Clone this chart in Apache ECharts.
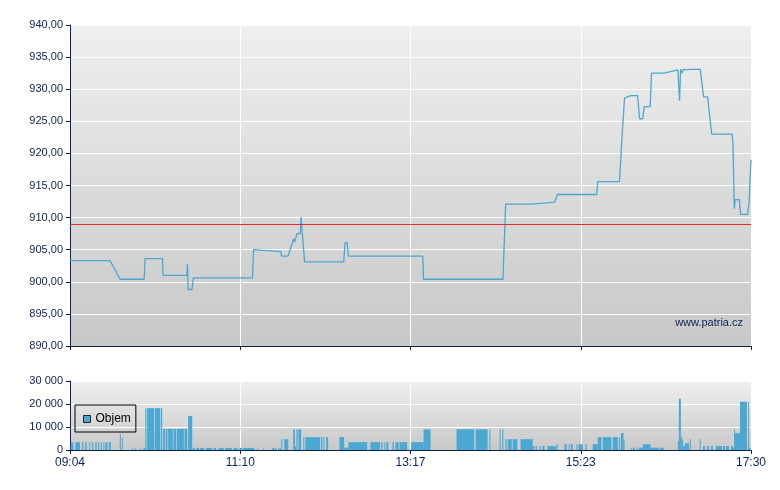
<!DOCTYPE html>
<html>
<head>
<meta charset="utf-8">
<title>Patria</title>
<script src="https://cdn.jsdelivr.net/npm/echarts@6/dist/echarts.min.js"></script>
<style>
	html, body { margin: 0; padding: 0; background: #fff; }
	#chart { width: 780px; height: 490px; }
</style>
</head>
<body>
<div id="chart"></div>
<script>
'use strict';

// minutes since 09:04
var priceTime = [0, 29.8, 37.2, 55.1, 55.8, 68.7, 69.2, 86.8, 87.3, 87.8, 90.6, 91.7, 135.6, 136.4, 156.8, 157.2,
	162.0, 166.2, 166.9, 168.7, 171.1, 171.7, 174.3, 203.4, 204.4, 205.9, 206.9, 262.1, 262.7, 321.7, 323.7,
	343.6, 344.6, 360.1, 362.2, 391.4, 392.1, 408.3, 409.8, 410.5, 412.0, 416.7, 421.7, 423.2, 425.6, 426.6,
	431.1, 432.1, 441.5, 451.7, 452.9, 453.7, 454.6, 455.9, 458.9, 459.3, 460.4, 468.3, 470.8, 473.8, 476.8,
	491.9, 492.6, 493.6, 494.3, 497.3, 498.3, 503.5, 504.5, 506];
var priceValue = [903.3, 903.3, 900.4, 900.4, 903.6, 903.6, 901.0, 901.0, 902.8, 898.8, 898.8, 900.6, 900.6, 905.0, 904.7, 904.0,
	904.0, 906.7, 906.2, 907.5, 907.5, 910.1, 903.1, 903.1, 906.1, 906.1, 904.0, 904.0, 900.4, 900.4, 912.1,
	912.1, 912.4, 912.4, 913.6, 913.6, 915.6, 915.6, 921.3, 921.3, 928.6, 929.0, 929.0, 925.4, 925.4, 927.3,
	927.3, 932.5, 932.5, 933.0, 928.2, 933.1, 932.5, 933.1, 933.0, 933.3, 933.1, 933.1, 928.8, 928.8, 923.0,
	923.0, 921.5, 911.4, 912.8, 912.8, 910.5, 910.5, 912.2, 919.0];
var refPrice = 909.0;

var volStart = [0.5, 3.9, 8.9, 11.4, 14.4, 16.4, 18.8, 20.8, 22.8, 24.8, 26.3, 28.8, 37.0, 38.5, 46.1, 48.1, 52.1, 54.5,
	56.0, 57.3, 63.2, 67.5, 69.2, 71.2, 72.9, 76.9, 79.4, 85.1, 87.8, 91.0, 93.8, 96.7, 101.2, 106.6, 110.4, 115.3,
	121.5, 126.0, 128.7, 139.1, 143.6, 150.3, 152.3, 154.8, 156.3, 157.0, 159.2, 165.9, 167.2, 168.2, 169.7, 173.4,
	174.9, 186.5, 188.3, 190.3, 200.2, 203.7, 206.9, 223.2, 231.2, 233.6, 235.1, 239.6, 241.8, 244.8, 253.5, 262.7,
	287.2, 301.4, 311.6, 319.2, 321.2, 323.5, 325.2, 328.9, 334.8, 343.8, 346.0, 348.8, 351.0, 354.7, 361.4, 367.4,
	370.6, 372.1, 376.3, 377.8, 383.0, 388.4, 392.1, 395.9, 403.3, 407.8, 409.3, 411.3, 416.7, 418.2, 421.2, 422.7,
	425.6, 431.4, 438.3, 451.7, 452.4, 453.9, 454.6, 455.4, 456.9, 460.6, 467.8, 470.3, 473.3, 476.2, 479.9, 485.2,
	487.4, 491.1, 492.6, 493.4, 494.1, 497.8, 503.8, 504.5];
var volEnd = [2.5, 7.4, 9.9, 12.4, 15.1, 17.3, 19.9, 21.6, 23.6, 25.3, 27.8, 30.3, 37.7, 39.2, 46.9, 48.6, 52.8, 55.8,
	56.8, 62.7, 67.0, 68.5, 70.7, 72.4, 76.4, 78.9, 84.6, 87.1, 90.8, 92.8, 96.0, 99.7, 105.7, 108.6, 114.1, 120.3,
	124.5, 128.0, 136.9, 139.9, 144.3, 151.8, 153.3, 155.7, 156.8, 157.5, 162.2, 167.2, 167.9, 169.1, 171.7, 174.1,
	185.8, 187.5, 189.0, 191.8, 203.7, 206.9, 220.8, 230.4, 232.2, 234.4, 236.6, 240.6, 244.1, 250.5, 262.7, 267.9,
	300.4, 310.3, 312.3, 320.0, 322.0, 324.4, 328.2, 332.4, 343.8, 345.0, 347.0, 349.7, 352.5, 360.9, 362.4, 369.1,
	371.3, 373.6, 377.0, 381.0, 384.0, 392.1, 394.9, 402.3, 407.0, 408.5, 411.3, 412.0, 417.4, 419.7, 421.9, 425.6,
	431.4, 437.5, 441.3, 452.4, 453.9, 454.6, 455.4, 456.9, 459.9, 461.3, 468.5, 471.8, 474.7, 477.7, 484.4, 486.6,
	489.6, 492.6, 493.4, 494.1, 497.8, 503.0, 504.5, 505.4];
var volValue = [3400, 3400, 3400, 3400, 3400, 3400, 3400, 3400, 3400, 3400, 3400, 3400, 7000, 5400, 800, 800, 800, 800,
	18200, 18200, 18200, 18200, 9200, 9200, 9200, 9200, 9200, 9200, 14800, 900, 900, 900, 900, 900, 900, 900,
	900, 900, 900, 700, 700, 900, 900, 900, 900, 4700, 4700, 9000, 1500, 9000, 9000, 5600,
	5600, 5600, 5600, 5600, 5600, 1000, 3400, 3400, 3400, 3400, 3400, 3400, 3400, 3400, 3400, 9000,
	9000, 9000, 9000, 9000, 9000, 4700, 4700, 4700, 4700, 1700, 1700, 1700, 1700, 1700, 2500, 2500,
	2500, 2500, 2500, 2500, 2500, 2500, 5600, 5600, 5600, 5600, 7300, 4700, 1000, 1000, 1000, 1000,
	2500, 1000, 1000, 3900, 22300, 5600, 4700, 1700, 2900, 4700, 4700, 1700, 1700, 1700, 1700, 1700,
	1700, 1700, 1000, 9000, 7300, 21000, 21000, 1000];

var openMinute = 9 * 60 + 4;
var axisColor = '#0c2256';
var lineColor = '#4aa8d2';

function timeLabel(v) {
	var m = Math.floor(openMinute + v);
	var h = Math.floor(m / 60);
	var mm = m % 60;
	return (h < 10 ? '0' : '') + h + ':' + (mm < 10 ? '0' : '') + mm;
}

var priceData = [];
for (var i = 0; i < priceTime.length; i++) {
	priceData.push([priceTime[i], priceValue[i]]);
}
var volData = [];
for (var j = 0; j < volStart.length; j++) {
	volData.push([volStart[j], volEnd[j], volValue[j]]);
}

function plotBg(top, bottom) {
	return new echarts.graphic.LinearGradient(0, 0, 0, 1, [
		{offset: 0, color: top},
		{offset: 1, color: bottom}
	]);
}

var labelFont = {color: axisColor, fontSize: 11, fontFamily: 'Liberation Sans, Arial, sans-serif'};

var option = {
	animation: false,
	backgroundColor: '#fff',
	grid: [
		{left: 70, right: 29, top: 25, height: 321, show: true, borderWidth: 0, backgroundColor: plotBg('#efefef', '#c8c8c8')},
		{left: 70, right: 29, top: 381, height: 69, show: true, borderWidth: 0, backgroundColor: plotBg('#efefef', '#c9c9c9')}
	],
	legend: {
		data: [{name: 'Objem', icon: 'rect', itemStyle: {color: lineColor, borderColor: '#222', borderWidth: 1}}],
		left: 75,
		top: 405,
		padding: [8, 5, 7, 8],
		itemWidth: 7,
		itemHeight: 7,
		itemGap: 5,
		borderColor: '#000',
		borderWidth: 1,
		backgroundColor: 'transparent',
		textStyle: {color: '#000', fontSize: 12, fontFamily: 'Liberation Sans, Arial, sans-serif'},
		selectedMode: false
	},
	xAxis: [
		{
			type: 'value', gridIndex: 0, min: 0, max: 506, interval: 126.5,
			axisLine: {lineStyle: {color: axisColor, width: 1}},
			axisTick: {show: true, length: 4, lineStyle: {color: axisColor}},
			axisLabel: {show: false},
			splitLine: {show: true, lineStyle: {color: '#fff', width: 1}}
		},
		{
			type: 'value', gridIndex: 1, min: 0, max: 506, interval: 126.5,
			axisLine: {lineStyle: {color: axisColor, width: 1}},
			axisTick: {show: true, length: 4, lineStyle: {color: axisColor}},
			axisLabel: {formatter: timeLabel, margin: 7, showMinLabel: true, showMaxLabel: true, fontSize: 12, color: axisColor, fontFamily: labelFont.fontFamily},
			splitLine: {show: true, lineStyle: {color: '#fff', width: 1}}
		}
	],
	yAxis: [
		{
			type: 'value', gridIndex: 0, min: 890, max: 940, interval: 5,
			axisLine: {show: true, lineStyle: {color: axisColor, width: 1}},
			axisTick: {show: true, length: 4, lineStyle: {color: axisColor}},
			axisLabel: Object.assign({margin: 7, formatter: function (v) { return v.toFixed(2).replace('.', ','); }}, labelFont),
			splitLine: {show: true, lineStyle: {color: '#fff', width: 1}}
		},
		{
			type: 'value', gridIndex: 1, min: 0, max: 30000, interval: 10000,
			axisLine: {show: true, lineStyle: {color: axisColor, width: 1}},
			axisTick: {show: true, length: 4, lineStyle: {color: axisColor}},
			axisLabel: Object.assign({margin: 7, formatter: function (v) { return String(v).replace(/\B(?=(\d{3})+(?!\d))/g, ' '); }}, labelFont),
			splitLine: {show: true, lineStyle: {color: '#fff', width: 1}}
		}
	],
	graphic: [
		{type: 'text', right: 37, top: 317, style: {text: 'www.patria.cz', fill: axisColor, fontSize: 11, fontFamily: 'Liberation Sans, Arial, sans-serif'}}
	],
	series: [
		{
			name: 'Cena',
			type: 'line',
			xAxisIndex: 0,
			yAxisIndex: 0,
			data: priceData,
			showSymbol: false,
			lineStyle: {color: lineColor, width: 1.3},
			itemStyle: {color: lineColor},
			markLine: {
				silent: true,
				symbol: 'none',
				label: {show: false},
				lineStyle: {color: '#e8262b', width: 1, type: 'solid'},
				data: [{yAxis: refPrice}]
			},
			z: 3
		},
		{
			name: 'Objem',
			type: 'custom',
			xAxisIndex: 1,
			yAxisIndex: 1,
			encode: {x: [0, 1], y: 2},
			data: volData,
			itemStyle: {color: lineColor},
			renderItem: function (params, api) {
				var p0 = api.coord([api.value(0), api.value(2)]);
				var p1 = api.coord([api.value(1), 0]);
				return {
					type: 'rect',
					shape: {x: p0[0], y: p0[1], width: Math.max(1, p1[0] - p0[0]), height: p1[1] - p0[1]},
					style: {fill: lineColor}
				};
			}
		}
	]
};

var chart = echarts.init(document.getElementById('chart'));
chart.setOption(option);
</script>
</body>
</html>
